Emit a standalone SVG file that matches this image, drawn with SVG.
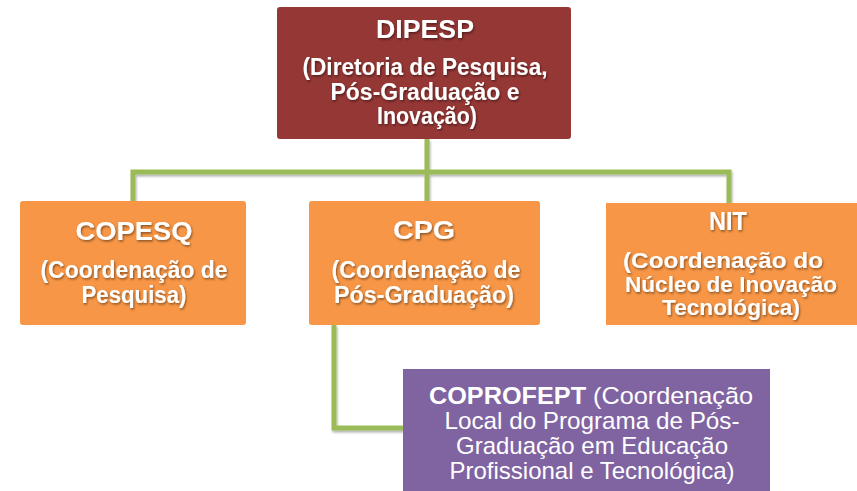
<svg xmlns="http://www.w3.org/2000/svg" width="857" height="491" viewBox="0 0 857 491">
<defs>
<filter id="ts" x="-10%" y="-10%" width="120%" height="130%">
<feDropShadow dx="1" dy="1.5" stdDeviation="0.8" flood-color="#000" flood-opacity="0.45"/>
</filter>
<filter id="ls" x="-10%" y="-10%" width="120%" height="130%">
<feDropShadow dx="1" dy="2" stdDeviation="1.2" flood-color="#000" flood-opacity="0.3"/>
</filter>
</defs>
<style>
.t{font-family:"Liberation Sans",Arial,sans-serif;fill:#fff;text-anchor:middle;}
.b{font-weight:bold;}
.h{font-size:25px;}
.s{font-size:23px;}
.n{font-size:22px;}
.p{font-size:24px;}
.sh{filter:url(#ts);}
.red{fill:#953735;}
.org{fill:#F79646;}
.pur{fill:#8064A2;}
.con{fill:none;stroke:#9BBB59;stroke-width:5;stroke-linejoin:miter;}
</style>
<rect width="857" height="491" fill="#fff"/>
<g id="connectors" filter="url(#ls)">
<path class="con" d="M427,139 V172"/>
<path class="con" d="M133,201 V172 H729 V203"/>
<path class="con" d="M427,172 V201"/>
<path class="con" d="M334,325 V428 H403"/>
</g>
<g id="dipesp">
<rect class="red" x="277" y="7" width="294" height="132" rx="3"/>
<g class="sh">
<text class="t b h" x="425" y="38" textLength="98" lengthAdjust="spacingAndGlyphs">DIPESP</text>
<text class="t b s" x="425" y="75" textLength="245" lengthAdjust="spacingAndGlyphs">(Diretoria de Pesquisa,</text>
<text class="t b s" x="425" y="100" textLength="189" lengthAdjust="spacingAndGlyphs">Pós-Graduação e</text>
<text class="t b s" x="427" y="124" textLength="100" lengthAdjust="spacingAndGlyphs">Inovação)</text>
</g>
</g>
<g id="copesq">
<rect class="org" x="20" y="201" width="226" height="124" rx="3"/>
<g class="sh">
<text class="t b h" x="134" y="240" textLength="117" lengthAdjust="spacingAndGlyphs">COPESQ</text>
<text class="t b s" x="134" y="278" textLength="187" lengthAdjust="spacingAndGlyphs">(Coordenação de</text>
<text class="t b s" x="134" y="303" textLength="105" lengthAdjust="spacingAndGlyphs">Pesquisa)</text>
</g>
</g>
<g id="cpg">
<rect class="org" x="309" y="201" width="231" height="124" rx="3"/>
<g class="sh">
<text class="t b h" x="424" y="239" textLength="62" lengthAdjust="spacingAndGlyphs">CPG</text>
<text class="t b s" x="426" y="278" textLength="189" lengthAdjust="spacingAndGlyphs">(Coordenação de</text>
<text class="t b s" x="424" y="303" textLength="180" lengthAdjust="spacingAndGlyphs">Pós-Graduação)</text>
</g>
</g>
<g id="nit">
<rect class="org" x="606" y="203" width="251" height="122"/>
<g class="sh">
<text class="t b h" x="728" y="230" textLength="38" lengthAdjust="spacingAndGlyphs">NIT</text>
<text class="t b n" x="723" y="268" textLength="200" lengthAdjust="spacingAndGlyphs">(Coordenação do</text>
<text class="t b n" x="731" y="292" textLength="212" lengthAdjust="spacingAndGlyphs">Núcleo de Inovação</text>
<text class="t b n" x="731" y="315" textLength="138" lengthAdjust="spacingAndGlyphs">Tecnológica)</text>
</g>
</g>
<g id="coprofept">
<rect class="pur" x="403" y="369" width="367" height="122"/>
<text class="t p" x="591" y="404" textLength="324" lengthAdjust="spacingAndGlyphs"><tspan class="b">COPROFEPT</tspan> (Coordenação</text>
<text class="t p" x="592" y="429" textLength="295" lengthAdjust="spacingAndGlyphs">Local do Programa de Pós-</text>
<text class="t p" x="592" y="454" textLength="272" lengthAdjust="spacingAndGlyphs">Graduação em Educação</text>
<text class="t p" x="592" y="479" textLength="285" lengthAdjust="spacingAndGlyphs">Profissional e Tecnológica)</text>
</g>
</svg>
